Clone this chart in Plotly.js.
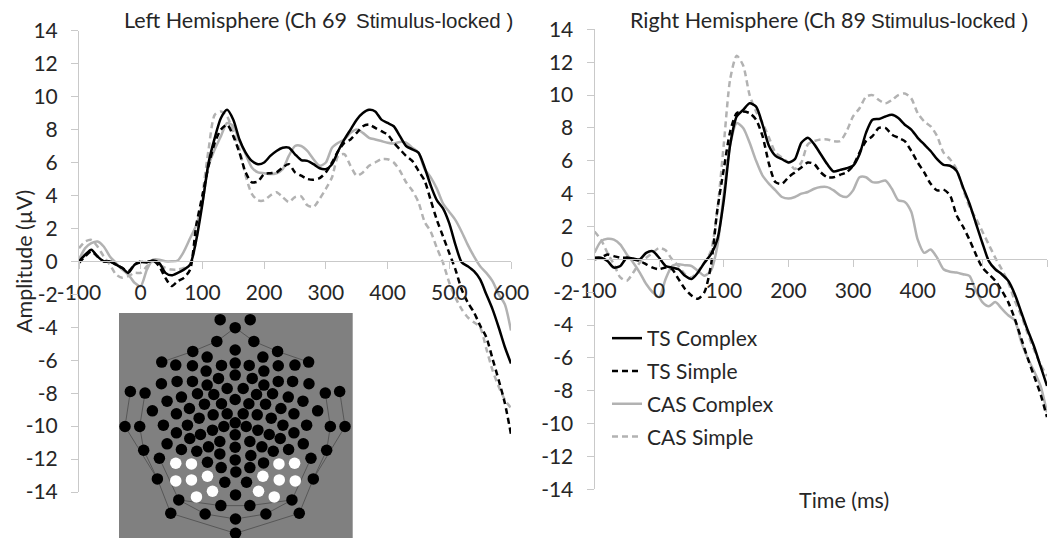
<!DOCTYPE html>
<html><head><meta charset="utf-8">
<script src="https://cdn.plot.ly/plotly-3.0.1.min.js"></script>
<style>html,body{margin:0;padding:0;background:#fff}#c{width:1063px;height:538px}</style>
</head><body><div id="c"></div>
<script>
const timeMs = [-100,-90,-80,-70,-60,-50,-40,-30,-20,-10,0,10,20,30,40,50,60,70,80,90,100,110,120,130,140,150,160,170,180,190,200,210,220,230,240,250,260,270,280,290,300,310,320,330,340,350,360,370,380,390,400,410,420,430,440,450,460,470,480,490,500,510,520,530,540,550,560,570,580,590,600];
const seriesNames = ["TS Complex","TS Simple","CAS Complex","CAS Simple"];
const leftTSComplex = [0,.4,.7,.3,0,0,-.2,-.4,-.7,-.2,-.05,-.05,.05,-.1,-.7,-.85,-.7,-.5,-.2,1.3,3.5,6,7.5,8.7,9.2,8.6,7.4,6.6,6.1,5.9,6,6.4,6.7,6.9,6.9,6.5,6.15,6.1,5.9,5.65,5.6,5.9,6.7,7.4,8,8.6,9,9.2,9.1,8.6,8.4,8.2,7.6,7,6.8,6.6,5.7,4.6,3.7,3.2,2.3,1,-.05,-.3,-.6,-1.1,-2,-2.9,-4,-5.2,-6.2];
const leftTSSimple = [-.1,.3,.6,.3,0,0,-.2,-.4,-.6,-.2,0,-.05,.05,-.3,-1,-1.5,-1.2,-1,-.5,2.2,4,5.8,7.2,8,8.3,7.6,6.6,5.4,4.8,4.85,5.3,5.35,5.4,5.7,5.9,5.4,5.2,5,4.95,5.05,5.4,6,6.7,7.2,7.4,7.8,8.2,8.3,8.1,7.9,7.7,7.2,6.8,6.4,6.1,5.5,4.9,3.7,2.5,1.5,.5,-.5,-1.7,-2.5,-3.1,-3.9,-4.6,-5.9,-7.2,-8.6,-10.5];
const leftCASComplex = [.1,.8,1.1,1.2,.9,.3,-.1,-.5,-.8,-1.3,-1.5,-.5,.1,.1,0,0,.05,.6,1.4,2.2,3.6,5.8,6.8,7.6,8.4,8.2,7.3,6.5,5.7,5.4,5.35,5.3,5.35,5.6,6.4,7,7,6.7,6.2,5.8,6,6.9,7.2,7.4,7.8,8,7.8,7.5,7.4,7.3,7.2,7.15,7.25,7.2,6.9,6.6,5.6,5.1,4.4,3.5,3,2.5,1.8,1,.3,-.3,-.7,-1.2,-2,-2.6,-4.2];
const leftCASSimple = [.8,1.2,1.3,.9,.3,-.2,-.8,-1,-.9,-.7,-.7,-.3,0,-.2,-.4,-.5,-.5,-.4,-.2,1.3,4,6.8,8.9,9.1,8.8,7.8,6.8,5.2,4.1,3.7,3.7,4,4.2,3.9,3.6,3.9,3.95,3.4,3.3,3.8,4.4,5.1,6.4,6.5,5.8,5.2,5.4,5.8,6,6.2,6.2,6,5.5,4.8,4.3,3.6,2.4,1.8,.8,-.1,-1.3,-2.2,-2.9,-3.4,-3.7,-4,-5.3,-6.6,-7.6,-8.4,-8.9];
const rightTSComplex = [.1,.1,-.1,-.5,-.4,.1,.05,0,.4,.5,.1,-.4,-.5,-.6,-1,-1.2,-.8,-.2,.3,1.2,3.6,7,8.7,9.1,9.5,9.3,8.2,6.9,6.3,6.1,5.9,6.1,7.1,7.4,7,6.4,5.8,5.35,5.45,5.55,5.7,6.4,7.7,8.5,8.55,8.7,8.8,8.6,8.2,7.9,7.4,7,6.6,6.1,5.75,5.7,5.4,4.4,3.4,2.2,1,-.1,-.6,-.9,-1.3,-2.1,-3.2,-4.3,-5.3,-6.5,-7.7];
const rightTSSimple = [0,.1,.3,.2,.1,.1,0,-.1,-.3,-.5,-.6,-.5,-.6,-1.2,-1.8,-2.2,-2.4,-2,-.4,3,5.5,7.8,8.9,9,8.9,8.5,7.5,5.8,4.7,4.6,5,5.3,5.6,5.9,5.8,5.3,5,5,5.15,5.3,5.7,6.5,7.2,7.5,8,8,7.6,7.4,7.2,6.6,5.9,5.3,4.6,4.2,4.25,3.9,2.7,2,1.2,.3,-.5,-.9,-1.3,-1.9,-2.6,-3.6,-4.8,-6,-7.1,-8.2,-9.6];
const rightCASComplex = [.4,1.1,1.25,1.2,.9,.3,-.2,-.8,-1.5,-2,-2.3,-1.2,-.4,-.3,-.35,-.4,-.7,-1,-.7,.8,4,7,8.3,8,7.1,6,5.1,4.6,4.2,3.8,3.7,3.8,4,4.1,4.3,4.4,4.4,4.2,3.9,3.8,4.2,5,5,4.7,4.7,4.8,4.3,3.6,3.5,2.9,1.2,.4,.6,.1,-.6,-.75,-.8,-.9,-1,-1.9,-2.6,-2.85,-2.6,-3,-3.4,-3.7,-5,-6,-6.8,-7.7,-9.3];
const rightCASSimple = [1.7,1.2,.4,-.3,-1.1,-1.3,-.8,-.2,.1,.4,.7,.55,0,-.4,-.9,-1.1,-.7,-.2,.5,3,7,11,12.4,11.8,10,9,8.3,7.4,6.5,6.2,5.9,5.5,5.9,7,7.2,7.3,7.3,7.2,7.2,7.8,8.7,9.2,9.9,10,9.7,9.5,9.7,10,10.1,9.8,8.9,8.4,8.1,7.5,6.5,6.1,5.5,4.3,3.2,2.5,1.7,.9,.1,-.6,-1.4,-2.5,-3.4,-4.5,-5.5,-6.4,-7.1];

const xTickVals = [-100,0,100,200,300,400,500,600];
const xTickText = ["-100","0","100","200","300","400","500","600"];
const yTickVals = [14,12,10,8,6,4,2,0,-2,-4,-6,-8,-10,-12,-14];
const yTickText = ["14","12","10","8","6","4","2","0","-2","-4","-6","-8","-10","-12","-14"];

// electrode map (positions)
const blackX = [361,451,406,351,462,279,406,533,322,489,186,626,228,585,278,535,365,448,406,319,492,406,356,457,232,278,535,578,185,627,322,492,382,430,92,136,676,719,293,342,470,518,245,565,202,609,406,365,447,314,497,269,543,158,653,230,582,382,430,340,472,298,514,406,372,439,263,549,191,620,76,120,691,735,338,474,302,508,230,582,406,360,450,270,541,202,610,326,486,406,245,566,132,680,360,453,291,520,406,179,633,323,491,364,450,408,173,640,375,440,407,237,576,363,450,316,498,213,598,407,407];
const blackY = [60,60,84,125,125,155,151,155,172,172,187,187,196,196,198,198,197,197,190,214,214,226,236,236,245,245,245,245,252,252,256,256,266,266,275,280,280,275,282,284,284,282,292,292,304,304,299,312,312,313,313,326,326,333,333,342,342,342,342,345,345,355,355,369,380,380,376,376,376,376,380,380,380,380,391,391,404,404,399,399,405,425,425,416,416,432,432,441,441,442,449,449,451,451,462,467,454,454,480,475,475,487,489,503,503,516,537,537,547,547,585,600,600,617,617,642,642,640,640,657,700];
const whiteX = [228,275,537,584,228,275,323,489,538,586,338,476,290,523];
const whiteY = [490,492,492,490,543,540,529,529,540,543,574,574,591,591];
const outerRingX = [92,76,173,213,407,598,640,735,719,null,136,120,132,173,null,676,691,680,640,null,406,351,279,186,null,406,462,533,626,null,237,316,407,498,576,null,363,450,null,179,237,363,null,633,576,450];
const outerRingY = [275,380,537,640,700,640,537,380,275,null,280,380,451,537,null,280,380,451,537,null,84,125,155,187,null,84,125,155,187,null,600,642,657,642,600,null,617,617,null,475,600,617,null,475,600,617];

const W = 1063, H = 538;
const fx = p => p / W, fy = p => 1 - p / H;
const BLACK = "#000000", GREY = "#b2b2b2", TXT = "#262626", AX = "#c9c9c9";
const NUM = "Lato, Carlito, Calibri, sans-serif";

function tr(x, y, name, color, dash, xa, ya, showLegend, rank) {
  return {x, y, name, mode: "lines", xaxis: xa, yaxis: ya, showlegend: showLegend,
    legendrank: rank, legendgroup: name, hoverinfo: "skip",
    line: {color, width: 2.5, dash: dash ? "6px,4px" : "solid", shape: "spline", smoothing: 0.7}};
}
const traces = [
  {x:outerRingX,y:outerRingY,mode:"lines",xaxis:"x3",yaxis:"y3",showlegend:false,hoverinfo:"skip",line:{color:"#3a3a3a",width:0.6}},
  {x:blackX,y:blackY,mode:"markers",xaxis:"x3",yaxis:"y3",showlegend:false,hoverinfo:"skip",marker:{color:"#000",size:11.5}},
  {x:whiteX,y:whiteY,mode:"markers",xaxis:"x3",yaxis:"y3",showlegend:false,hoverinfo:"skip",marker:{color:"#fff",size:11.5}},
  tr(timeMs,leftCASSimple,seriesNames[3],GREY,true,"x","y",false,4),
  tr(timeMs,leftCASComplex,seriesNames[2],GREY,false,"x","y",false,3),
  tr(timeMs,leftTSSimple,seriesNames[1],BLACK,true,"x","y",false,2),
  tr(timeMs,leftTSComplex,seriesNames[0],BLACK,false,"x","y",false,1),
  tr(timeMs,rightCASSimple,seriesNames[3],GREY,true,"x2","y2",true,4),
  tr(timeMs,rightCASComplex,seriesNames[2],GREY,false,"x2","y2",true,3),
  tr(timeMs,rightTSSimple,seriesNames[1],BLACK,true,"x2","y2",true,2),
  tr(timeMs,rightTSComplex,seriesNames[0],BLACK,false,"x2","y2",true,1)
];
function xAxis(l, r, y0) {
  return {domain:[fx(l),fx(r)],range:[-100,600],anchor:"free",position:fy(y0),
    tickvals:xTickVals,ticktext:xTickText,ticks:"outside",ticklen:7,tickcolor:AX,tickwidth:1,showline:true,linecolor:AX,linewidth:1,
    showgrid:false,zeroline:false,ticklabelstandoff:5,tickfont:{family:NUM,size:21,color:TXT}};
}
function yAxis(t, b, anchorX) {
  return {domain:[fy(b),fy(t)],range:[-14,14],anchor:anchorX,tickvals:yTickVals,ticktext:yTickText,
    ticks:"outside",ticklen:7,tickcolor:AX,tickwidth:1,showline:true,linecolor:AX,linewidth:1,
    showgrid:false,zeroline:false,ticklabelstandoff:9,tickfont:{family:NUM,size:21,color:TXT}};
}
function note(text, px, py, font, size, angle) {
  return {text, x:fx(px), y:fy(py), xref:"paper", yref:"paper", xanchor:angle?"center":"left", yanchor:"middle",
    showarrow:false, textangle:angle||0, font:{family:font,size,color:TXT}};
}
const layout = {
  width:W, height:H, margin:{l:0,r:0,t:0,b:0}, paper_bgcolor:"#fff", plot_bgcolor:"rgba(0,0,0,0)",
  xaxis:xAxis(79,511,261.4), yaxis:yAxis(30.7,492,"x"),
  xaxis2:xAxis(594.5,1047,259.4), yaxis2:yAxis(29.4,489.4,"x2"),
  xaxis3:{domain:[fx(119),fx(352.7)],range:[58,758],anchor:"y3",visible:false,fixedrange:true},
  yaxis3:{domain:[0,fy(313)],range:[714,40],anchor:"x3",visible:false,fixedrange:true},
  shapes:[{type:"rect",xref:"paper",yref:"paper",x0:fx(119),x1:fx(352.7),y0:0,y1:fy(313),fillcolor:"#808080",line:{width:0},layer:"below"}],
  legend:{x:fx(607),y:fy(318),xanchor:"left",yanchor:"top",traceorder:"grouped",tracegroupgap:2.5,
    font:{family:NUM,size:21,color:TXT},itemclick:false,itemdoubleclick:false,bgcolor:"rgba(0,0,0,0)"},
  annotations:[
    note("Left Hemisphere (Ch 69",122,20,NUM,21.5),
    note("Stimulus-locked )",354,20,"Liberation Sans",20.5),
    note("Right Hemisphere (Ch 89",628,20,NUM,21.5),
    note("Stimulus-locked )",869,20,"Liberation Sans",20.5),
    note("Amplitude (µV)",24,262,NUM,21.5,-90),
    note("Time (ms)",797,500,NUM,21.5)
  ]
};
Plotly.newPlot("c", traces, layout, {displayModeBar:false, staticPlot:true});
</script></body></html>
